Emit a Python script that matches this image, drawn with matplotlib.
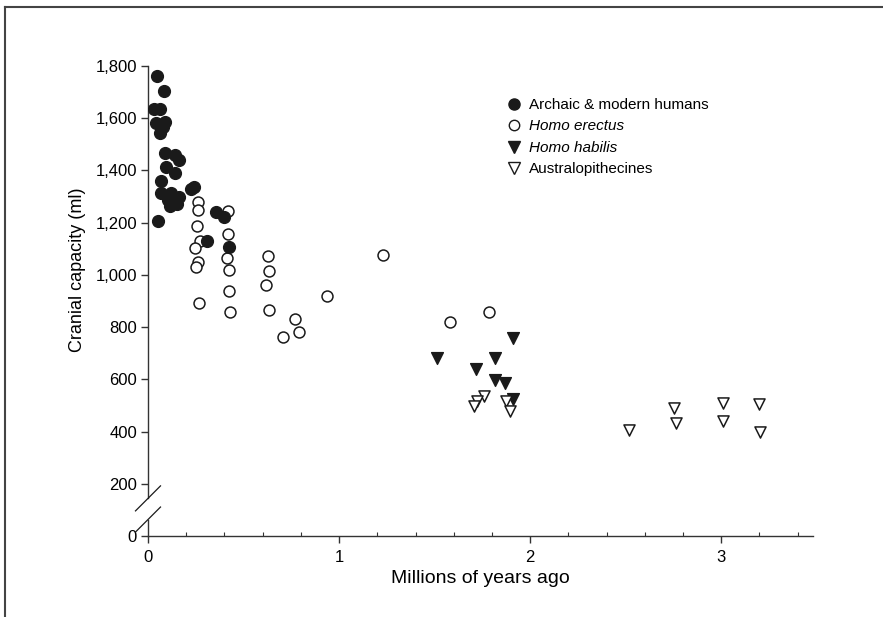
import numpy as np
import matplotlib
matplotlib.use("Agg")
from matplotlib import pyplot as plt
from matplotlib.ticker import FuncFormatter, MultipleLocator
from matplotlib.lines import Line2D

plt.rcParams['font.family'] = ['Liberation Sans', 'DejaVu Sans']

# Archaic & modern humans (filled circles)
modern_x = [0.045, 0.085, 0.03, 0.065, 0.04, 0.09, 0.065, 0.08, 0.09, 0.14,
            0.16, 0.094, 0.14, 0.066, 0.07, 0.12, 0.16, 0.105, 0.15, 0.115,
            0.225, 0.24, 0.052, 0.356, 0.40, 0.31, 0.424]
modern_y = [1760, 1705, 1635, 1635, 1580, 1585, 1545, 1565, 1465, 1460,
            1440, 1415, 1390, 1360, 1315, 1315, 1300, 1285, 1270, 1265,
            1330, 1338, 1205, 1240, 1220, 1130, 1105]

# Homo erectus (open circles)
erectus_x = [0.264, 0.264, 0.258, 0.27, 0.246, 0.26, 0.25, 0.267, 0.42, 0.42,
             0.412, 0.426, 0.426, 0.43, 0.63, 0.634, 0.62, 0.635, 0.939, 0.77,
             0.79, 0.708, 1.23, 1.578, 1.787]
erectus_y = [1280, 1247, 1187, 1128, 1103, 1051, 1030, 891, 1243, 1158,
             1064, 1019, 937, 857, 1074, 1013, 962, 867, 918, 831,
             783, 764, 1077, 820, 856]

# Homo habilis (filled triangles)
habilis_x = [1.909, 1.51, 1.817, 1.717, 1.817, 1.869, 1.909]
habilis_y = [760, 683, 680, 641, 597, 587, 523]

# Australopithecines (open triangles)
austr_x = [1.76, 1.724, 1.707, 1.874, 1.895, 2.518, 2.754, 2.764, 3.009,
           3.009, 3.2, 3.204]
austr_y = [536, 517, 497, 517, 478, 405, 491, 431, 508, 440, 504, 397]

labels = ['Archaic & modern humans', 'Homo erectus', 'Homo habilis',
          'Australopithecines']

fig = plt.figure(figsize=(8.83, 6.17), dpi=100)
ax = fig.add_axes([0.1676, 0.1313, 0.7531, 0.7617])

ink = '#1a1a1a'
ax.scatter(erectus_x, erectus_y, s=62, marker='o', facecolor='white',
           edgecolor=ink, linewidth=1.1, zorder=3)
ax.scatter(modern_x, modern_y, s=72, marker='o', color=ink, zorder=4)
ax.scatter(habilis_x, habilis_y, s=72, marker='v', color=ink, zorder=3)
ax.scatter(austr_x, austr_y, s=64, marker='v', facecolor='white',
           edgecolor=ink, linewidth=1.1, zorder=4)

ax.set_xlim(0, 3.48)
ax.set_ylim(0, 1800)
ax.set_yticks(np.arange(0, 1801, 200))
ax.yaxis.set_major_formatter(FuncFormatter(lambda v, p: F"{int(v):,}"))
ax.set_xticks([0, 1, 2, 3])
ax.xaxis.set_minor_locator(MultipleLocator(0.2))

for side in ['top', 'right']:
    ax.spines[side].set_visible(False)
for side in ['left', 'bottom']:
    ax.spines[side].set_color('#333333')
    ax.spines[side].set_linewidth(1.0)

# broken y axis between 0 and 200
brk_lo, brk_hi = 63, 144
ax.spines['left'].set_bounds(brk_hi, 1800)
ax.plot([0, 0], [0, brk_lo], color='#333333', lw=1.0, clip_on=False,
        zorder=5)
dx = 12.5 / 191
dy = 12.5 / 0.261
for yb in [brk_lo, brk_hi]:
    ax.plot([-dx, dx], [yb - dy, yb + dy], color=ink, lw=0.9,
            clip_on=False, zorder=5)

ax.tick_params(axis='y', which='major', direction='out', length=5,
               width=1.0, color='#333333', labelsize=12, pad=3)
ax.tick_params(axis='x', which='major', direction='out', length=5,
               width=1.0, color='#333333', labelsize=12, pad=5)
ax.tick_params(axis='x', which='minor', direction='in', length=3,
               width=0.8, color='#333333')

ax.set_xlabel('Millions of years ago', fontsize=14, labelpad=4)
ax.set_ylabel('Cranial capacity (ml)', fontsize=13)
ax.yaxis.set_label_coords(-0.093, 0.566)

handles = [
    Line2D([], [], ls='', marker='o', ms=8, color=ink),
    Line2D([], [], ls='', marker='o', ms=7.5, mfc='white', mec=ink, mew=1.0),
    Line2D([], [], ls='', marker='v', ms=8, color=ink),
    Line2D([], [], ls='', marker='v', ms=8, mfc='white', mec=ink, mew=1.0),
]
leg = ax.legend(handles, labels, loc='upper left',
                bbox_to_anchor=(508 / 883, 1 - 98 / 617),
                bbox_transform=fig.transFigure, frameon=False, fontsize=11,
                handlelength=0.8, handletextpad=0.6, labelspacing=0.49,
                borderaxespad=0, borderpad=0)
for t in leg.get_texts()[1:3]:
    t.set_style('italic')

# frame lines (top and left of the original box)
fig.add_artist(Line2D([5 / 883, 1], [1 - 7 / 617, 1 - 7 / 617],
                      transform=fig.transFigure, color='#444444', lw=1.5))
fig.add_artist(Line2D([5 / 883, 5 / 883], [0, 1 - 7 / 617],
                      transform=fig.transFigure, color='#444444', lw=1.5))

fig.savefig('out.png', dpi=100)
plt.close(fig)
